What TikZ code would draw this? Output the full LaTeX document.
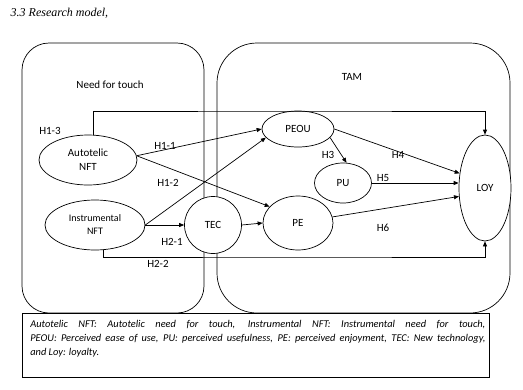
\documentclass[tikz,border=0pt]{standalone}
\usepackage{fontspec}
\setsansfont{Carlito}
\newfontfamily\capfont{Liberation Serif}
\usetikzlibrary{shapes.geometric,arrows.meta}

\begin{document}
\begin{tikzpicture}[x=1pt,y=-1pt,line width=0.7pt,font=\sffamily\fontsize{11}{14}\selectfont,
    construct/.style={draw,ellipse,fill=white,inner sep=0pt,align=center},
    arr/.style={-{Triangle[length=5pt,width=4pt]}},
    hyp/.style={inner sep=1pt}]
    \useasboundingbox (0,0) rectangle (523,389);
    \node[anchor=west,font=\capfont\itshape\fontsize{12}{14}\selectfont] (caption) at (7,13) {3.3 Research model,};

    % the two groups
    \draw[rounded corners=27pt] (22,43) rectangle (204,313);
    \draw[rounded corners=40pt] (217,43) rectangle (510,313);
    \node (lblnft) at (110,85) {Need for touch};
    \node (lbltam) at (352,77) {TAM};

    % constructs
    \node[construct,minimum width=98pt,minimum height=50pt] (atnft) at (88,160) {Autotelic\\NFT};
    \node[construct,minimum width=100pt,minimum height=50pt,font=\sffamily\fontsize{10}{13}\selectfont] (innft) at (95,225) {Instrumental\\NFT};
    \node[construct,circle,minimum size=57pt] (tec) at (213,225) {TEC};
    \node[construct,minimum width=72pt,minimum height=36pt] (peou) at (298,129) {PEOU};
    \node[construct,minimum width=57pt,minimum height=40pt] (pu) at (343,183) {PU};
    \node[construct,minimum width=70pt,minimum height=54pt] (pe) at (298,223) {PE};
    \node[construct,minimum width=52pt,minimum height=106pt] (loy) at (485,188) {LOY};

    % paths
    \coordinate (toprail) at (300,111);
    \coordinate (botrail) at (300,257);
    \draw[arr] ([xshift=5pt]atnft.north) |- (toprail) -| (loy.north);
    \draw[arr] ([xshift=8pt]innft.south) |- (botrail) -| (loy.south);
    \draw[arr] (atnft.5) -- (peou.west);
    \draw[arr] (atnft.5) -- (pe.150);
    \draw[arr] (innft.east) -- (peou.195);
    \draw[arr] (innft.east) -- (tec.west);
    \draw[arr] (tec.east) -- (pe.west);
    \draw[arr] (peou.-15) -- (pu.80);
    \draw[arr] (peou.east) -- (loy.150);
    \draw[arr] (pu.east) -- (pu.east -| loy.west);
    \draw[arr] (pe.10) -- (loy.198);

    % hypotheses
    \node[hyp] (h13) at (50,131) {H1-3};
    \node[hyp] (h11) at (165,146) {H1-1};
    \node[hyp] (h12) at (168,183) {H1-2};
    \node[hyp] (h21) at (172,242) {H2-1};
    \node[hyp] (h22) at (158,264) {H2-2};
    \node[hyp] (h3) at (328,155) {H3};
    \node[hyp] (h4) at (398,155) {H4};
    \node[hyp] (h5) at (383,178) {H5};
    \node[hyp] (h6) at (383,228) {H6};

    % note
    \draw (22,313) rectangle (489,377);
    \node[anchor=north west,text width=455pt,align=justify,inner sep=0pt,
      font=\sffamily\itshape\fontsize{10.4}{14}\selectfont] (legend) at (30,320)
      {Autotelic NFT: Autotelic need for touch, Instrumental NFT: Instrumental need for touch,\linebreak PEOU: Perceived ease of use, PU: perceived usefulness, PE: perceived enjoyment, TEC: New technology,\linebreak and Loy: loyalty.};
\end{tikzpicture}
\end{document}
